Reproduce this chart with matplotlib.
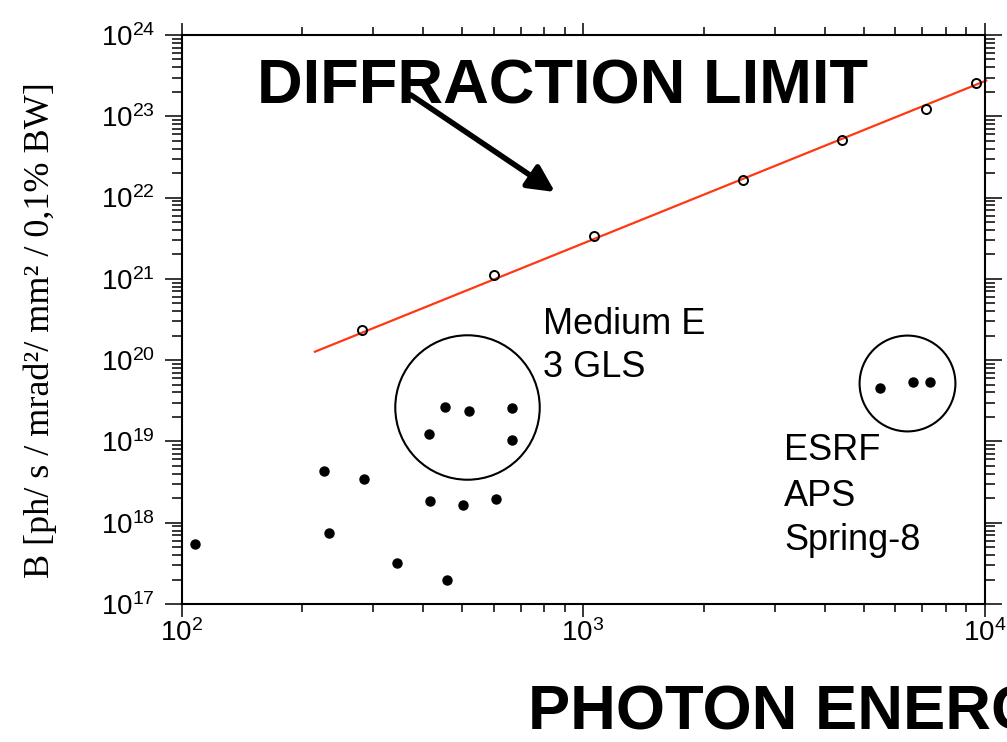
import matplotlib
matplotlib.use('Agg')
import matplotlib.pyplot as plt
import numpy as np
from matplotlib.ticker import LogLocator, NullFormatter

plt.rcParams['font.family'] = ['Liberation Sans', 'DejaVu Sans']
plt.rcParams['mathtext.default'] = 'regular'

# diffraction limited brilliance (open circles) + straight fit
dl_energy = [281, 601, 1063, 2500, 4424, 7137, 9507]
dl_brill = [2.35e20, 1.11e21, 3.40e21, 1.64e22, 5.11e22, 1.24e23, 2.59e23]
fit_energy = [215, 10100]
fit_brill = [1.27e20, 2.75e23]

# existing sources (filled dots)
src_energy = [108, 226, 233, 284, 344, 458, 416, 502, 606,
              413, 454, 521, 666, 666, 5492, 6625, 7317]
src_brill = [5.52e17, 4.37e18, 7.41e17, 3.45e18, 3.17e17, 1.96e17, 1.87e18, 1.65e18, 1.96e18,
             1.22e19, 2.63e19, 2.35e19, 2.58e19, 1.03e19, 4.51e19, 5.43e19, 5.38e19]

# hand drawn rings round the two groups
ring_energy = [513, 6412]
ring_brill = [2.62e19, 5.24e19]

W, H = 1007, 742
fig = plt.figure(figsize=(W / 100, H / 100), dpi=100)
ax = fig.add_axes([181.5 / W, 1 - 604 / H, (984.5 - 181.5) / W, (604 - 35) / H])
ax.set_xscale('log')
ax.set_yscale('log')
ax.set_xlim(1e2, 1e4)
ax.set_ylim(1e17, 1e24)

ax.plot(fit_energy, fit_brill, color='#ff3814', lw=1.6, clip_on=False, zorder=2)
ax.plot(dl_energy, dl_brill, 'o', ms=6.5, mfc='none', mec='black', mew=1.4, zorder=3)
ax.plot(src_energy, src_brill, 'o', ms=6.5, color='black', zorder=3)
ax.plot(ring_energy[0], ring_brill[0], 'o', ms=104, mfc='none', mec='black', mew=1.5)
ax.plot(ring_energy[1], ring_brill[1], 'o', ms=69, mfc='none', mec='black', mew=1.5)

for axis in (ax.xaxis, ax.yaxis):
    axis.set_major_locator(LogLocator(base=10, numticks=20))
    axis.set_minor_locator(LogLocator(base=10, subs=np.arange(2, 10), numticks=20))
    axis.set_minor_formatter(NullFormatter())

ax.tick_params(which='both', direction='out', top=True, right=True, width=1.1)
ax.tick_params(axis='y', which='major', length=12, pad=7, labelsize=20)
ax.tick_params(axis='y', which='minor', length=7)
ax.tick_params(axis='x', which='major', length=9, pad=2, labelsize=20)
ax.tick_params(axis='x', which='minor', length=6)
for s in ax.spines.values():
    s.set_linewidth(1.5)

fig.text(40 / W, 1 - 330 / H, 'B [ph/ s / mrad²/ mm² / 0,1% BW]', rotation=90,
         ha='center', va='center', fontsize=26, family='Liberation Serif')

fig.text(257 / W, 1 - 104 / H, 'DIFFRACTION LIMIT', fontsize=45.5, fontweight='bold', va='baseline')
fig.text(528 / W, 1 - 730 / H, 'PHOTON ENERGY', fontsize=45.5, fontweight='bold', va='baseline')

fig.text(543 / W, 1 - 334 / H, 'Medium E', fontsize=26, va='baseline')
fig.text(543 / W, 1 - 377 / H, '3 GLS', fontsize=26, va='baseline')
fig.text(784 / W, 1 - 460 / H, 'ESRF', fontsize=26, va='baseline')
fig.text(784 / W, 1 - 506 / H, 'APS', fontsize=26, va='baseline')
fig.text(784 / W, 1 - 550 / H, 'Spring-8', fontsize=26, va='baseline')

ax.annotate('', xy=(555 / W, 1 - 192 / H), xytext=(411 / W, 1 - 95 / H),
            xycoords='figure fraction',
            arrowprops=dict(arrowstyle='-|>,head_length=0.8,head_width=0.4', lw=4,
                            color='black', mutation_scale=20, shrinkA=0, shrinkB=0))

fig.savefig('out.png', dpi=100)
